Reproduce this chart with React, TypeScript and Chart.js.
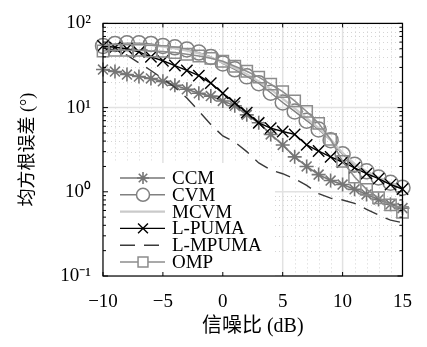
import React, { useEffect, useRef } from 'react';
import { Chart, registerables } from 'chart.js';
import { drawPoint } from 'chart.js/helpers';

Chart.register(...registerables);

const snr = [-10, -9, -8, -7, -6, -5, -4, -3, -2, -1, 0, 1, 2, 3, 4, 5, 6, 7, 8, 9, 10, 11, 12, 13, 14, 15];
const ccm = [28.3, 26.8, 24.7, 23.4, 22.2, 20.5, 18.4, 16.5, 14.8, 13.7, 12.0, 10.5, 8.2, 6.6, 4.8, 3.6, 2.6, 2.0, 1.6, 1.36, 1.22, 1.07, 0.93, 0.81, 0.71, 0.64];
const cvm = [54, 57, 58, 58, 57, 54, 52, 49, 45, 40, 33.5, 28.5, 23.5, 19.5, 15, 11.5, 9.0, 7.0, 5.5, 4.1, 2.8, 2.1, 1.75, 1.48, 1.28, 1.12];
const mcvm = [52, 55, 56, 56, 55, 53, 50.5, 47.5, 44, 39.5, 34, 29.5, 25, 20.5, 16.5, 12.8, 9.8, 7.5, 5.7, 4.2, 2.9, 2.15, 1.75, 1.47, 1.27, 1.1];
const lpuma = [54, 52, 50, 46, 40, 36, 31.6, 27.6, 24, 19.5, 14.8, 11.4, 8.7, 6.6, 5.7, 5.2, 4.8, 3.6, 3.05, 2.6, 2.26, 1.93, 1.64, 1.43, 1.22, 1.08];
const lmpuma = [52, 48, 42, 34, 27.6, 22, 17.4, 13, 9.1, 6.3, 4.6, 3.9, 3.0, 2.2, 1.82, 1.64, 1.43, 1.19, 0.95, 0.84, 0.8, 0.73, 0.62, 0.53, 0.46, 0.43];
const omp = [47, 48, 48, 48, 47, 46.5, 45, 43, 41, 38.5, 35.5, 31, 27, 23, 19, 15.5, 12, 9.0, 6.5, 4.2, 2.3, 1.5, 1.07, 0.85, 0.7, 0.57];

const seriesNames = ['CCM', 'CVM', 'MCVM', 'L-PUMA', 'L-MPUMA', 'OMP'];
const xTicks = [-10, -5, 0, 5, 10, 15];
const yTicks = [0.1, 1, 10, 100];
const yTickLabels = ['10⁻¹', '10⁰', '10¹', '10²'];
const xTitle = '信噪比 (dB)';
const yTitle = '均方根误差 (°)';

const FONT = "'Liberation Serif', 'Noto Sans CJK SC', serif";

const styles = [
  { color: '#767676', pointStyle: 'star', radius: 7, width: 1.6, dash: [] as number[] },
  { color: '#808080', pointStyle: 'circle', radius: 7.5, width: 1.5, dash: [] as number[] },
  { color: '#cacaca', pointStyle: false as any, radius: 0, width: 2.2, dash: [] as number[] },
  { color: '#000000', pointStyle: 'crossRot', radius: 8, width: 1.4, dash: [] as number[] },
  { color: '#3a3a3a', pointStyle: false as any, radius: 0, width: 1.4, dash: [15, 9] },
  { color: '#8c8c8c', pointStyle: 'rect', radius: 8, width: 1.5, dash: [] as number[] },
];

const seriesData = [ccm, cvm, mcvm, lpuma, lmpuma, omp];

const decorPlugin = {
  id: 'decor',
  beforeDatasetsDraw(chart: any) {
    const { ctx, chartArea: a, scales } = chart;
    const x = scales.x;
    const y = scales.y;
    ctx.save();
    ctx.strokeStyle = '#d4d4d4';
    ctx.lineWidth = 1;
    ctx.setLineDash([1, 3]);
    for (let v = -9; v < 15; v++) {
      if (v % 5 === 0) continue;
      const px = Math.round(x.getPixelForValue(v)) + 0.5;
      ctx.beginPath();
      ctx.moveTo(px, a.top);
      ctx.lineTo(px, a.bottom);
      ctx.stroke();
    }
    for (let k = -1; k <= 1; k++) {
      for (let m = 2; m <= 9; m++) {
        const py = Math.round(y.getPixelForValue(m * Math.pow(10, k))) + 0.5;
        ctx.beginPath();
        ctx.moveTo(a.left, py);
        ctx.lineTo(a.right, py);
        ctx.stroke();
      }
    }
    ctx.setLineDash([]);
    ctx.strokeStyle = '#e2e2e2';
    ctx.lineWidth = 1.5;
    for (const v of xTicks) {
      const px = x.getPixelForValue(v);
      ctx.beginPath();
      ctx.moveTo(px, a.top);
      ctx.lineTo(px, a.bottom);
      ctx.stroke();
    }
    for (const v of yTicks) {
      const py = y.getPixelForValue(v);
      ctx.beginPath();
      ctx.moveTo(a.left, py);
      ctx.lineTo(a.right, py);
      ctx.stroke();
    }
    ctx.fillStyle = '#ffffff';
    ctx.fillRect(a.left, a.bottom - 113, 172, 113);
    ctx.restore();
  },
  afterDatasetsDraw(chart: any) {
    const { ctx, chartArea: a, scales } = chart;
    const x = scales.x;
    const y = scales.y;
    ctx.save();
    const rowH = 16.8;
    const y0 = a.bottom - 98;
    ctx.font = `19px ${FONT}`;
    ctx.textBaseline = 'middle';
    ctx.textAlign = 'left';
    seriesNames.forEach((name, i) => {
      const st = styles[i];
      const ry = y0 + i * rowH;
      ctx.strokeStyle = st.color;
      ctx.lineWidth = st.width;
      ctx.setLineDash(st.dash);
      ctx.beginPath();
      ctx.moveTo(a.left + 17, ry);
      ctx.lineTo(a.left + 62, ry);
      ctx.stroke();
      ctx.setLineDash([]);
      if (st.pointStyle) {
        ctx.fillStyle = '#ffffff';
        drawPoint(ctx, { pointStyle: st.pointStyle, radius: st.radius - 1, rotation: 0, borderWidth: st.width } as any, a.left + 40, ry);
      }
      ctx.fillStyle = '#000000';
      ctx.fillText(name, a.left + 69, ry + 1);
    });
    ctx.strokeStyle = '#000000';
    ctx.lineWidth = 1.2;
    ctx.strokeRect(a.left, a.top, a.right - a.left, a.bottom - a.top);
    ctx.lineWidth = 1;
    for (const v of xTicks) {
      const px = x.getPixelForValue(v);
      ctx.beginPath();
      ctx.moveTo(px, a.bottom);
      ctx.lineTo(px, a.bottom - 4);
      ctx.moveTo(px, a.top);
      ctx.lineTo(px, a.top + 4);
      ctx.stroke();
    }
    for (let k = -1; k <= 2; k++) {
      for (let m = 1; m <= 9; m++) {
        const val = m * Math.pow(10, k);
        if (val > 100) break;
        const py = y.getPixelForValue(val);
        const len = m === 1 ? 5 : 3;
        ctx.beginPath();
        ctx.moveTo(a.left, py);
        ctx.lineTo(a.left + len, py);
        ctx.moveTo(a.right, py);
        ctx.lineTo(a.right - len, py);
        ctx.stroke();
      }
    }
    ctx.restore();
  },
};

export default function App() {
  const ref = useRef<HTMLCanvasElement | null>(null);
  useEffect(() => {
    if (!ref.current) return;
    const chart = new Chart(ref.current, {
      type: 'line',
      data: {
        datasets: seriesNames.map((name, i) => {
          const st = styles[i];
          return {
            label: name,
            data: snr.map((s, j) => ({ x: s, y: seriesData[i][j] })),
            borderColor: st.color,
            borderWidth: st.width,
            borderDash: st.dash,
            pointStyle: st.pointStyle,
            pointRadius: st.radius,
            pointBorderColor: st.color,
            pointBackgroundColor: 'rgba(0,0,0,0)',
            pointBorderWidth: st.width,
            fill: false,
            tension: 0,
            clip: 12,
            order: 5 - i,
          } as any;
        }),
      },
      options: {
        animation: false,
        responsive: false,
        devicePixelRatio: 1,
        layout: { padding: { top: 20, right: 15, left: 0, bottom: 0 } },
        plugins: { legend: { display: false }, tooltip: { enabled: false } },
        scales: {
          x: {
            type: 'linear',
            min: -10,
            max: 15,
            grid: { display: false, drawTicks: false },
            border: { display: false },
            afterBuildTicks: (s: any) => { s.ticks = xTicks.map((v) => ({ value: v })); },
            afterFit: (s: any) => { s.height = 71; },
            ticks: {
              color: '#000',
              padding: 15,
              font: { family: FONT, size: 19 },
              maxRotation: 0,
              callback: (v: any) => (Number(v) < 0 ? '−' + Math.abs(Number(v)) : String(v)),
            },
            title: {
              display: true,
              text: xTitle,
              color: '#000',
              font: { family: FONT, size: 20 },
              padding: { top: 0, bottom: 8 },
            },
          },
          y: {
            type: 'logarithmic',
            min: 0.1,
            max: 100,
            grid: { display: false, drawTicks: false },
            border: { display: false },
            afterBuildTicks: (s: any) => { s.ticks = yTicks.map((v) => ({ value: v })); },
            afterFit: (s: any) => { s.width = 103; },
            ticks: {
              color: '#000',
              padding: 12,
              font: { family: FONT, size: 19 },
              callback: (v: any) => {
                const idx = yTicks.findIndex((t) => Math.abs(t - Number(v)) < 1e-9);
                return idx >= 0 ? yTickLabels[idx] : '';
              },
            },
            title: {
              display: true,
              text: yTitle,
              color: '#000',
              font: { family: FONT, size: 18 },
              padding: { top: 17, bottom: 0 },
            },
          },
        },
      },
      plugins: [decorPlugin],
    });
    return () => chart.destroy();
  }, []);
  return (
    <div style={{ position: 'fixed', left: 0, top: 0, width: 427, height: 347, background: '#fff' }}>
      <canvas ref={ref} width={427} height={347} style={{ width: 427, height: 347 }} />
    </div>
  );
}
